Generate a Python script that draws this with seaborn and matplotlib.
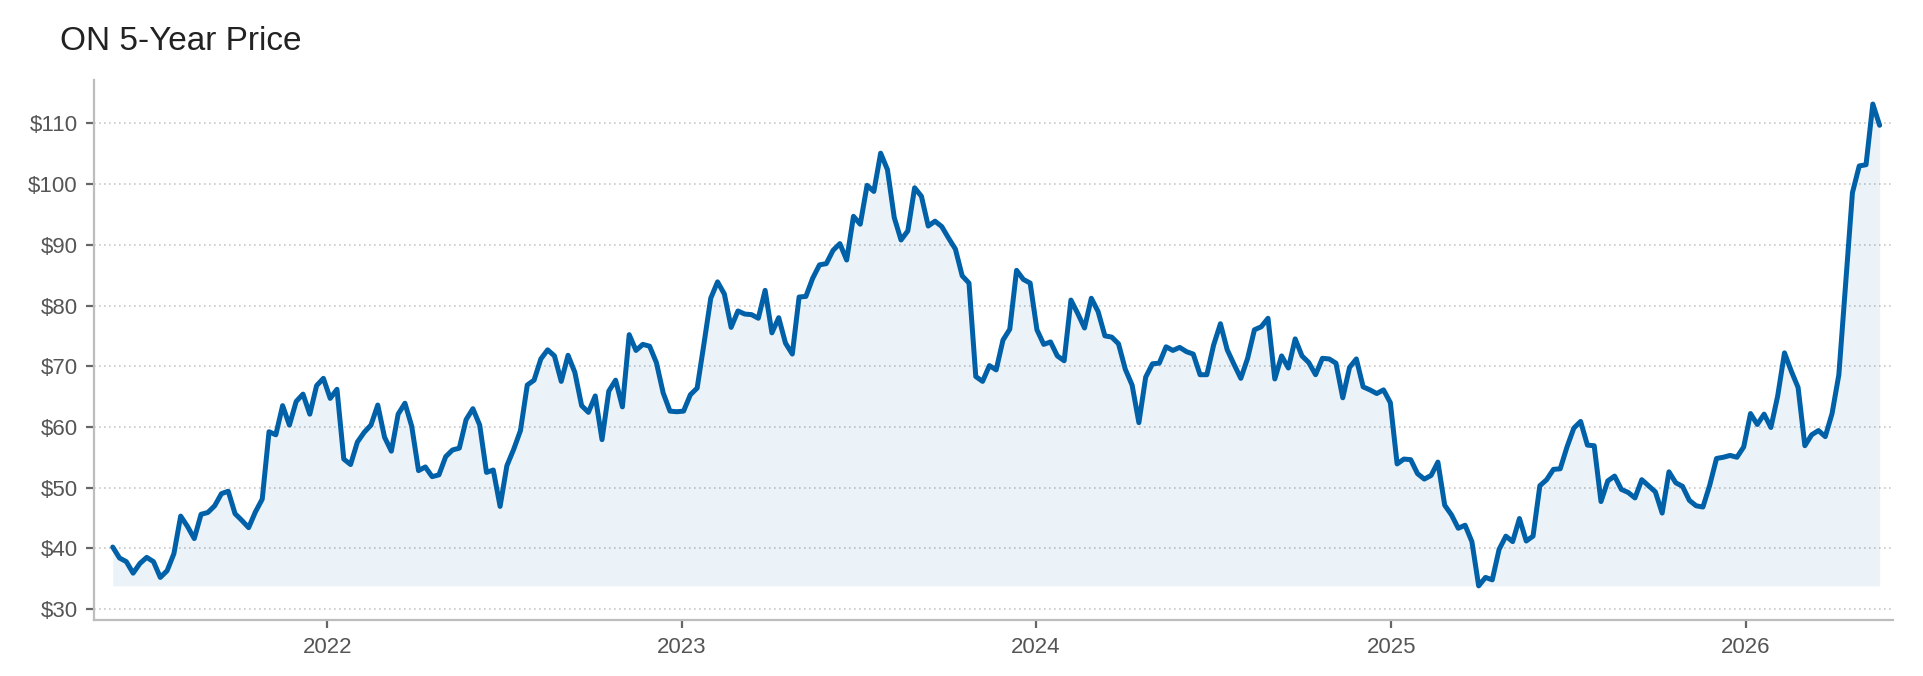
import pandas as pd
import seaborn as sns
import matplotlib.pyplot as plt
import matplotlib.dates as mdates
from matplotlib.ticker import StrMethodFormatter

# ── Data: weekly closing price ───────────────────────────────────────────────
START_DATE = "2021-05-25"
prices = [
    40.2, 38.4, 37.8, 35.9, 37.5, 38.5, 37.8, 35.2, 36.3, 39.1,
    45.3, 43.6, 41.6, 45.6, 45.9, 47.0, 49.0, 49.4, 45.7, 44.6,
    43.4, 46.0, 48.1, 59.2, 58.7, 63.5, 60.3, 64.2, 65.4, 62.1,
    66.8, 68.0, 64.7, 66.2, 54.7, 53.8, 57.5, 59.1, 60.3, 63.6,
    58.3, 56.0, 62.1, 63.9, 60.1, 52.8, 53.4, 51.8, 52.1, 55.1,
    56.2, 56.5, 61.2, 63.0, 60.3, 52.5, 52.9, 46.9, 53.6, 56.3,
    59.4, 66.9, 67.7, 71.2, 72.7, 71.7, 67.5,
    71.8, 69.0, 63.5, 62.4, 65.1, 57.9, 65.9, 67.7, 63.3, 75.2,
    72.6, 73.6, 73.3, 70.6, 65.6, 62.6, 62.5, 62.6, 65.3, 66.4,
    73.7, 81.2, 83.9, 81.9, 76.4, 79.1, 78.6, 78.5, 77.9, 82.5,
    75.5, 78.0, 73.8, 72.0, 81.4, 81.5, 84.5, 86.7, 86.9, 89.1,
    90.2, 87.5, 94.7, 93.4, 99.8, 98.8, 105.1, 102.4, 94.5, 90.8,
    92.3, 99.4, 98.0, 93.1, 93.9, 93.0, 91.1, 89.3, 84.9, 83.7,
    68.3, 67.5, 70.1, 69.4,
    74.3, 76.1, 85.8, 84.3, 83.7, 76.0, 73.6, 74.0, 71.7, 70.9,
    80.9, 78.7, 76.3, 81.2, 79.0, 75.0, 74.8, 73.7, 69.5, 66.9,
    60.7, 68.2, 70.4, 70.5, 73.2, 72.6, 73.1, 72.4, 72.0, 68.6,
    68.6, 73.5, 77.0, 72.7, 70.3, 68.0, 71.3, 76.0, 76.5, 77.9,
    67.9, 71.7, 69.7, 74.5, 71.7, 70.6, 68.6, 71.3, 71.2, 70.5,
    64.8, 69.8, 71.2, 66.6, 66.1, 65.5, 66.1, 64.0, 53.9, 54.7,
    54.6, 52.3, 51.4, 52.0, 54.2,
    47.1, 45.5, 43.3, 43.8, 41.1, 33.8, 35.2, 34.8, 39.8, 42.0,
    41.1, 44.9, 41.2, 42.0, 50.3, 51.3, 53.0, 53.1, 56.7, 59.8,
    60.9, 57.0, 56.9, 47.7, 51.1, 51.9, 49.7, 49.2, 48.3, 51.3,
    50.3, 49.3, 45.8, 52.6, 50.8, 50.2, 47.9, 47.0, 46.8, 50.4,
    54.8, 55.0, 55.3, 55.0, 56.7, 62.2, 60.4, 62.1, 59.9, 65.1,
    72.2, 69.2, 66.5, 56.9, 58.7, 59.4, 58.4, 62.2, 68.6, 83.7,
    98.6, 103.0, 103.2, 113.2, 109.7,
]
dates = pd.date_range(START_DATE, periods=len(prices), freq="7D")
df = pd.DataFrame({"date": dates, "price": prices})

TITLE = "ON 5-Year Price"
LINE_COLOR = "#0061a8"

# ── Style ─────────────────────────────────────────────────────────────────────
sns.set_theme(style="white")
plt.rcParams["font.family"] = ["Liberation Sans", "DejaVu Sans"]

fig = plt.figure(figsize=(9.62, 3.38), dpi=200)
ax = fig.add_axes([0.049, 0.083, 0.935, 0.799])

sns.lineplot(data=df, x="date", y="price", color=LINE_COLOR, linewidth=1.8, ax=ax)
ax.fill_between(df["date"], df["price"], df["price"].min(),
                color=LINE_COLOR, alpha=0.08, linewidth=0)

ax.set_xlim(dates[0] - pd.Timedelta(days=19), dates[-1] + pd.Timedelta(days=14))
ax.set_ylim(28.2, 117.2)
ax.yaxis.set_major_formatter(StrMethodFormatter("${x:,.0f}"))
ax.xaxis.set_major_locator(mdates.YearLocator())
ax.xaxis.set_major_formatter(mdates.DateFormatter("%Y"))

ax.set_xlabel("")
ax.set_ylabel("")
ax.grid(axis="y", linestyle=(0, (1, 2)), color="#c8c8c8", linewidth=0.6)
ax.grid(axis="x", visible=False)

for side in ("top", "right"):
    ax.spines[side].set_visible(False)
for side in ("left", "bottom"):
    ax.spines[side].set_color("#bdbdbd")
    ax.spines[side].set_linewidth(0.8)

ax.tick_params(axis="both", which="major", labelsize=8, labelcolor="#555555",
               color="#666666", length=3, width=0.8, direction="out",
               left=True, bottom=True, pad=3)

fig.text(0.031, 0.926, TITLE, fontsize=12, color="#222222", va="baseline", ha="left")

fig.savefig("out.png", dpi=200)
